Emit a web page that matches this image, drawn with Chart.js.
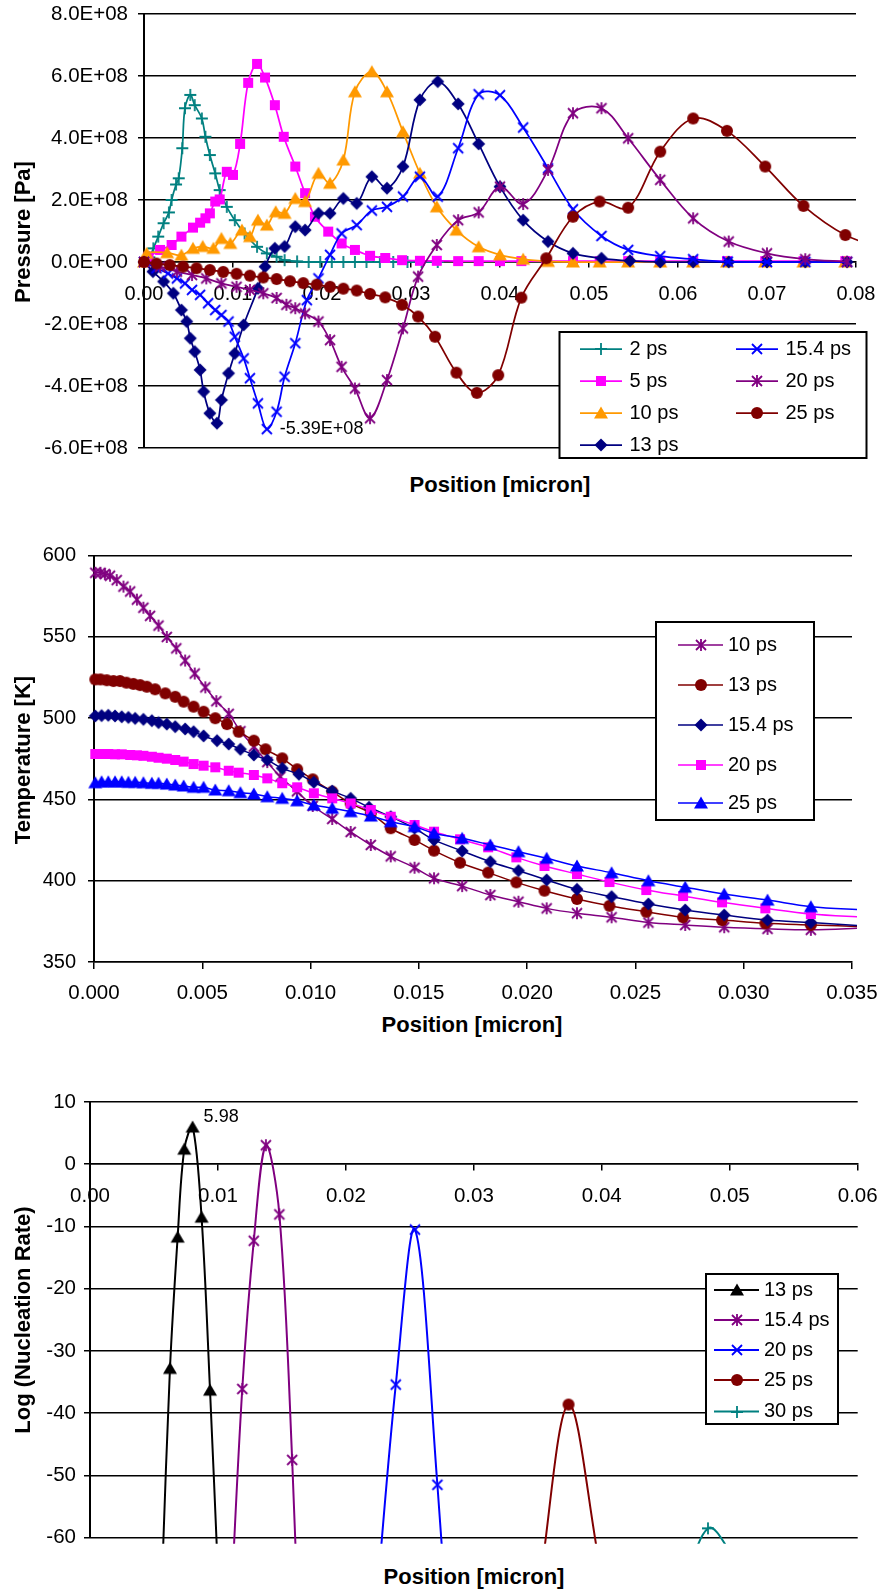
<!DOCTYPE html>
<html>
<head>
<meta charset="utf-8">
<script src="https://cdn.jsdelivr.net/npm/chart.js@4.4.1/dist/chart.umd.min.js"></script>
<style>
  html, body { margin: 0; padding: 0; background: #fff; }
  #page { position: relative; width: 880px; height: 1591px; overflow: hidden; font-family: "Liberation Sans", Arial, sans-serif; }
  canvas { position: absolute; left: 0; }
  .ttl { position: absolute; font-weight: bold; font-size: 22px; line-height: 1; white-space: nowrap; color: #000; }
  .ytl { transform: translate(-50%, -50%) rotate(-90deg); }
  .xtl { transform: translate(-50%, -50%); }
</style>
</head>
<body>
<div id="page">
  <canvas id="c1" width="880" height="470" style="top:0px;width:880px;height:470px"></canvas>
  <canvas id="c2" width="880" height="470" style="top:530px;width:880px;height:470px"></canvas>
  <canvas id="c3" width="880" height="490" style="top:1070px;width:880px;height:490px"></canvas>
  <div class="ttl ytl" style="left:23px;top:232px">Pressure [Pa]</div>
  <div class="ttl xtl" style="left:500px;top:485px">Position [micron]</div>
  <div class="ttl ytl" style="left:23px;top:760px">Temperature [K]</div>
  <div class="ttl xtl" style="left:472px;top:1025px">Position [micron]</div>
  <div class="ttl ytl" style="left:23px;top:1320px">Log (Nucleation Rate)</div>
  <div class="ttl xtl" style="left:474px;top:1577px">Position [micron]</div>
</div>
<script>
// ---- chart 1: pressure [Pa] vs position [micron]
const pressTicks = [-6e8, -4e8, -2e8, 0, 2e8, 4e8, 6e8, 8e8];
const pressLabels = ['-6.0E+08', '-4.0E+08', '-2.0E+08', '0.0E+00', '2.0E+08', '4.0E+08', '6.0E+08', '8.0E+08'];
const pos1Ticks = [0, 0.01, 0.02, 0.03, 0.04, 0.05, 0.06, 0.07, 0.08];
const pos1Labels = ['0.00', '0.01', '0.02', '0.03', '0.04', '0.05', '0.06', '0.07', '0.08'];

const p2ps = [[0, 0], [0.0006, 0.15e8], [0.00105, 0.44e8], [0.0016, 0.82e8], [0.0022, 1.25e8], [0.0028, 1.6e8],
  [0.0031, 2.0e8], [0.0036, 2.5e8], [0.0039, 2.7e8], [0.0043, 3.67e8], [0.0046, 4.96e8], [0.0052, 5.39e8],
  [0.0057, 5.06e8], [0.0065, 4.63e8], [0.0069, 4.04e8], [0.0074, 3.45e8], [0.0080, 2.86e8], [0.0085, 2.32e8],
  [0.0093, 1.78e8], [0.0102, 1.35e8], [0.0113, 0.92e8], [0.0127, 0.49e8], [0.0138, 0.28e8], [0.0149, 0.17e8],
  [0.0158, 0.06e8], [0.0172, 0.02e8], [0.0185, 0], [0.0198, 0], [0.0211, 0], [0.0224, 0], [0.0237, 0],
  [0.0250, 0], [0.0265, 0], [0.0280, 0], [0.0296, 0], [0.0312, 0], [0.0330, 0]];
const p5ps = [[0, 0], [0.0005, 0.17e8], [0.0018, 0.39e8], [0.0031, 0.55e8], [0.0042, 0.82e8], [0.0055, 1.11e8],
  [0.0063, 1.27e8], [0.0069, 1.41e8], [0.0074, 1.57e8], [0.0080, 1.95e8], [0.0085, 2.02e8], [0.0093, 2.91e8],
  [0.0100, 2.81e8], [0.0108, 3.81e8], [0.0117, 5.78e8], [0.0127, 6.39e8], [0.0136, 5.95e8], [0.0147, 5.06e8],
  [0.0157, 4.04e8], [0.0170, 3.08e8], [0.0181, 2.22e8], [0.0192, 1.46e8], [0.0207, 0.98e8], [0.0222, 0.60e8],
  [0.0237, 0.39e8], [0.0254, 0.20e8], [0.0271, 0.13e8], [0.0290, 0.06e8], [0.0310, 0.04e8], [0.0329, 0.04e8],
  [0.0353, 0.03e8], [0.0376, 0.03e8], [0.0400, 0.03e8], [0.0424, 0.03e8], [0.0452, 0.03e8], [0.0482, 0.03e8],
  [0.0512, 0.03e8], [0.0544, 0.03e8], [0.0580, 0.03e8], [0.0617, 0.03e8], [0.0655, 0.03e8], [0.0698, 0.03e8],
  [0.0741, 0.03e8], [0.0788, 0.03e8]];
const p10ps = [[0, 0], [0.0003, 0.28e8], [0.0026, 0.30e8], [0.0042, 0.22e8], [0.0055, 0.44e8], [0.0066, 0.50e8],
  [0.0078, 0.44e8], [0.0087, 0.76e8], [0.0097, 0.60e8], [0.0110, 1.03e8], [0.0119, 0.82e8], [0.0128, 1.35e8],
  [0.0138, 1.19e8], [0.0148, 1.62e8], [0.0158, 1.57e8], [0.0170, 2.05e8], [0.0181, 1.95e8], [0.0196, 2.86e8],
  [0.0209, 2.54e8], [0.0224, 3.29e8], [0.0237, 5.49e8], [0.0256, 6.14e8], [0.0273, 5.49e8], [0.0291, 4.20e8],
  [0.0310, 2.86e8], [0.0329, 1.78e8], [0.0351, 1.03e8], [0.0376, 0.49e8], [0.0400, 0.23e8], [0.0426, 0.09e8],
  [0.0454, 0.02e8], [0.0482, 0], [0.0512, 0], [0.0544, 0], [0.0580, 0], [0.0617, 0], [0.0655, 0], [0.0698, 0],
  [0.0741, 0], [0.0788, 0]];
const p13ps = [[0, 0], [0.0010, -0.31e8], [0.0022, -0.63e8], [0.0033, -1.01e8], [0.0042, -1.55e8], [0.0048, -1.92e8],
  [0.0052, -2.46e8], [0.0057, -2.89e8], [0.0063, -3.48e8], [0.0067, -4.18e8], [0.0074, -4.88e8], [0.0082, -5.20e8],
  [0.0087, -4.45e8], [0.0095, -3.59e8], [0.0102, -2.95e8], [0.0112, -2.03e8], [0.0128, -0.85e8], [0.0136, -0.15e8],
  [0.0147, 0.44e8], [0.0158, 0.50e8], [0.0170, 1.14e8], [0.0181, 1.03e8], [0.0196, 1.57e8], [0.0209, 1.57e8],
  [0.0224, 2.05e8], [0.0239, 1.89e8], [0.0256, 2.75e8], [0.0273, 2.38e8], [0.0291, 3.08e8], [0.0310, 5.23e8],
  [0.0330, 5.82e8], [0.0353, 5.10e8], [0.0376, 3.81e8], [0.0400, 2.43e8], [0.0426, 1.35e8], [0.0454, 0.66e8],
  [0.0482, 0.28e8], [0.0514, 0.12e8], [0.0546, 0.04e8], [0.0580, 0], [0.0617, 0], [0.0657, 0], [0.0700, 0],
  [0.0743, 0], [0.0790, 0]];
const p15ps = [[0, 0], [0.0014, -0.20e8], [0.0027, -0.37e8], [0.0037, -0.53e8], [0.0046, -0.69e8], [0.0054, -0.90e8],
  [0.0063, -1.06e8], [0.0072, -1.33e8], [0.0080, -1.55e8], [0.0087, -1.71e8], [0.0095, -1.92e8], [0.0102, -2.41e8],
  [0.0112, -3.11e8], [0.0119, -3.75e8], [0.0128, -4.56e8], [0.0138, -5.39e8], [0.0149, -4.83e8], [0.0158, -3.70e8],
  [0.0170, -2.62e8], [0.0183, -1.23e8], [0.0196, -0.53e8], [0.0209, 0.23e8], [0.0222, 0.92e8], [0.0239, 1.19e8],
  [0.0256, 1.66e8], [0.0273, 1.78e8], [0.0291, 2.11e8], [0.0310, 2.75e8], [0.0330, 2.11e8], [0.0353, 3.67e8],
  [0.0376, 5.41e8], [0.0400, 5.38e8], [0.0426, 4.34e8], [0.0454, 3.02e8], [0.0482, 1.70e8], [0.0514, 0.84e8],
  [0.0544, 0.39e8], [0.0580, 0.19e8], [0.0617, 0.09e8], [0.0656, 0.01e8], [0.0700, 0], [0.0743, 0], [0.0790, 0]];
const p20ps = [[0, 0], [0.0018, -0.15e8], [0.0037, -0.31e8], [0.0054, -0.42e8], [0.0070, -0.53e8], [0.0087, -0.69e8],
  [0.0104, -0.80e8], [0.0119, -0.90e8], [0.0134, -1.01e8], [0.0149, -1.16e8], [0.0160, -1.38e8], [0.0170, -1.49e8],
  [0.0181, -1.66e8], [0.0196, -1.92e8], [0.0209, -2.52e8], [0.0222, -3.38e8], [0.0237, -4.08e8], [0.0254, -5.04e8],
  [0.0273, -3.81e8], [0.0291, -2.14e8], [0.0308, -0.47e8], [0.0329, 0.55e8], [0.0353, 1.35e8], [0.0376, 1.60e8],
  [0.0400, 2.43e8], [0.0426, 1.87e8], [0.0454, 2.97e8], [0.0482, 4.80e8], [0.0514, 4.96e8], [0.0544, 3.99e8],
  [0.0580, 2.65e8], [0.0617, 1.41e8], [0.0657, 0.66e8], [0.0700, 0.28e8], [0.0743, 0.09e8], [0.0790, 0.01e8]];
const p25ps = [[0, 0], [0.0014, -0.05e8], [0.0029, -0.10e8], [0.0044, -0.15e8], [0.0059, -0.20e8], [0.0074, -0.26e8],
  [0.0089, -0.32e8], [0.0104, -0.38e8], [0.0119, -0.44e8], [0.0134, -0.50e8], [0.0149, -0.55e8], [0.0164, -0.62e8],
  [0.0179, -0.68e8], [0.0194, -0.73e8], [0.0209, -0.80e8], [0.0224, -0.86e8], [0.0239, -0.92e8], [0.0254, -1.03e8],
  [0.0271, -1.14e8], [0.0290, -1.38e8], [0.0308, -1.76e8], [0.0327, -2.41e8], [0.0351, -3.57e8], [0.0374, -4.22e8],
  [0.0398, -3.65e8], [0.0424, -1.15e8], [0.0452, 0.12e8], [0.0482, 1.46e8], [0.0512, 1.95e8], [0.0544, 1.75e8],
  [0.0580, 3.56e8], [0.0617, 4.63e8], [0.0655, 4.23e8], [0.0698, 3.08e8], [0.0741, 1.81e8], [0.0788, 0.87e8],
  [0.0835, 0.40e8]];

// ---- chart 2: temperature [K] vs position [micron]
const tempTicks = [350, 400, 450, 500, 550, 600];
const tempLabels = ['350', '400', '450', '500', '550', '600'];
const pos2Ticks = [0, 0.005, 0.010, 0.015, 0.020, 0.025, 0.030, 0.035];
const pos2Labels = ['0.000', '0.005', '0.010', '0.015', '0.020', '0.025', '0.030', '0.035'];

const t10ps = [[0.00006, 589.5], [0.0003, 589.5], [0.0005, 588.7], [0.00074, 587.7], [0.00105, 585], [0.00136, 581],
  [0.00167, 578], [0.00198, 573], [0.00228, 568], [0.00259, 563], [0.00298, 557], [0.00336, 550], [0.0038, 543],
  [0.00421, 535.5], [0.00465, 527.5], [0.00514, 519], [0.00565, 510.5], [0.00622, 502.7], [0.00676, 492],
  [0.00738, 482.5], [0.0080, 473], [0.0086, 464], [0.00937, 455], [0.0101, 446], [0.0110, 438], [0.01185, 430],
  [0.01278, 422], [0.0137, 415], [0.0148, 408], [0.0157, 401.5], [0.0170, 396.7], [0.0183, 391.2], [0.0196, 387.1],
  [0.0209, 383], [0.0223, 380], [0.0239, 377.5], [0.0256, 374.3], [0.0273, 372.8], [0.0291, 371.4], [0.0311, 370.4],
  [0.0331, 369.8], [0.0356, 371]];
const t13ps = [[0.00006, 523.9], [0.0003, 523.9], [0.00059, 523.4], [0.0009, 522.9], [0.0012, 522.9], [0.0015, 521.9],
  [0.00182, 521.1], [0.00213, 520.4], [0.00244, 519.4], [0.00282, 517.8], [0.00329, 515.3], [0.00375, 513.2],
  [0.00414, 510.2], [0.0046, 507.1], [0.00506, 504], [0.0056, 500], [0.00614, 496.4], [0.00668, 491.7],
  [0.00738, 486.2], [0.00792, 480.9], [0.00869, 475.3], [0.00938, 468.6], [0.0101, 462.4], [0.0110, 454.8],
  [0.01185, 447.6], [0.01278, 441.5], [0.0137, 432.3], [0.0148, 425.1], [0.0157, 418.5], [0.0169, 411.1],
  [0.0182, 405], [0.0195, 399], [0.0208, 393.9], [0.0223, 388.8], [0.0238, 384.6], [0.0255, 380.9], [0.0272, 377.5],
  [0.0290, 375.8], [0.0310, 373.8], [0.0331, 372.8], [0.0356, 371.7]];
const t15ps = [[0.00006, 501.4], [0.00035, 501.6], [0.00066, 501.8], [0.00097, 501.4], [0.00128, 500.9], [0.00159, 500.5],
  [0.0019, 499.9], [0.00228, 499.3], [0.00267, 498.5], [0.00298, 497.3], [0.00336, 496.4], [0.00375, 494.8],
  [0.00421, 493.4], [0.0046, 491.7], [0.00506, 489.1], [0.00568, 486.2], [0.00622, 484.1], [0.00676, 480.9],
  [0.00738, 477.4], [0.0080, 474.3], [0.00869, 469.2], [0.00946, 465.5], [0.01015, 460.6], [0.0110, 455.2],
  [0.01185, 450.7], [0.0127, 445.2], [0.0137, 439.4], [0.0148, 432.3], [0.0157, 425.1], [0.0170, 418.3],
  [0.0183, 411.7], [0.0196, 406.2], [0.0209, 400.5], [0.0223, 394.7], [0.0239, 390.2], [0.0256, 385.7], [0.0273, 382],
  [0.0291, 378.9], [0.0311, 375.8], [0.0331, 374.3], [0.0356, 372.2]];
const t20ps = [[0.00006, 478], [0.00035, 478], [0.00066, 478], [0.00097, 477.8], [0.00128, 477.8], [0.00167, 477.4],
  [0.00198, 477.2], [0.00228, 476.9], [0.00267, 476.3], [0.00298, 475.7], [0.00336, 475.1], [0.00375, 474.3],
  [0.00414, 473.3], [0.0046, 471.8], [0.00506, 470.8], [0.0056, 469.8], [0.00622, 467.7], [0.00668, 466.5],
  [0.00738, 465.1], [0.0080, 463], [0.00869, 460], [0.00938, 457.5], [0.01015, 453.8], [0.0110, 450.7],
  [0.01185, 447.6], [0.01278, 443.5], [0.0137, 439.4], [0.0148, 434.3], [0.0157, 430.2], [0.0169, 425.5],
  [0.0182, 420.6], [0.0195, 414.4], [0.0208, 409.1], [0.0223, 404.1], [0.0238, 399.2], [0.0255, 394.3],
  [0.0272, 390.6], [0.0290, 386.7], [0.0310, 383], [0.0331, 379.5], [0.0356, 377.5]];
const t25ps = [[0.00006, 460.3], [0.00035, 460.9], [0.00066, 460.9], [0.00097, 460.9], [0.00128, 460.9], [0.00159, 460.6],
  [0.0019, 460.6], [0.00228, 460.3], [0.00267, 460], [0.00298, 460], [0.00336, 459.5], [0.00375, 458.9],
  [0.00414, 458.3], [0.0046, 457.5], [0.00506, 457.5], [0.0056, 455.8], [0.00622, 455.4], [0.00676, 454.2],
  [0.00738, 453.4], [0.0080, 451.7], [0.00869, 450.7], [0.00938, 449.2], [0.01015, 446.6], [0.0110, 444.6],
  [0.01185, 442.5], [0.01278, 439.8], [0.0137, 436.3], [0.0148, 433.3], [0.0157, 429.2], [0.0170, 426.1],
  [0.0183, 422], [0.0196, 417.9], [0.0209, 413.8], [0.0223, 409.1], [0.0239, 404.9], [0.0256, 400], [0.0273, 396],
  [0.0291, 391.8], [0.0311, 388.1], [0.0331, 384], [0.0356, 382]];

// ---- chart 3: log(nucleation rate) vs position [micron]
const rateTicks = [-60, -50, -40, -30, -20, -10, 0, 10];
const rateLabels = ['-60', '-50', '-40', '-30', '-20', '-10', '0', '10'];
const pos3Ticks = [0, 0.01, 0.02, 0.03, 0.04, 0.05, 0.06];
const pos3Labels = ['0.00', '0.01', '0.02', '0.03', '0.04', '0.05', '0.06'];

const n13ps = [[0.00565, -65.3], [0.00625, -32.8], [0.00685, -11.7], [0.00737, 2.42], [0.00802, 5.98], [0.00872, -8.5],
  [0.00938, -36.3], [0.0100, -65.8]];
const n15ps = [[0.01095, -74], [0.0119, -36.1], [0.0128, -12.3], [0.01375, 3.06], [0.0148, -8.06], [0.0158, -47.5],
  [0.0168, -103]];
const n20ps = [[0.0224, -70], [0.0239, -35.4], [0.0254, -10.5], [0.02715, -51.5], [0.0289, -103]];
const n25ps = [[0.0351, -68], [0.0374, -38.6], [0.0398, -64]];
const n30ps = [[0.0458, -73.7], [0.0483, -58.5], [0.0508, -64.7]];

const FONT = '"Liberation Sans", Arial, sans-serif';
Chart.defaults.font.family = FONT;
Chart.defaults.color = '#000';

// excel-like marker glyphs, drawn once and reused as pointStyle images
function marker(shape, color) {
  const c = document.createElement('canvas');
  c.width = 18; c.height = 18;
  const g = c.getContext('2d');
  g.translate(9, 9);
  g.fillStyle = color; g.strokeStyle = color; g.lineWidth = 1.8;
  g.beginPath();
  if (shape === 'square') g.fillRect(-5, -5, 10, 10);
  else if (shape === 'diamond') { g.moveTo(0, -6.5); g.lineTo(6.5, 0); g.lineTo(0, 6.5); g.lineTo(-6.5, 0); g.closePath(); g.fill(); }
  else if (shape === 'triangle') { g.moveTo(0, -6.5); g.lineTo(7, 5.5); g.lineTo(-7, 5.5); g.closePath(); g.fill(); }
  else if (shape === 'circle') { g.arc(0, 0, 6, 0, Math.PI * 2); g.fill(); }
  else if (shape === 'x') { g.moveTo(-5, -5); g.lineTo(5, 5); g.moveTo(5, -5); g.lineTo(-5, 5); g.stroke(); }
  else if (shape === 'star') { g.moveTo(-5, -5); g.lineTo(5, 5); g.moveTo(5, -5); g.lineTo(-5, 5); g.moveTo(0, -6); g.lineTo(0, 6); g.stroke(); }
  else if (shape === 'plus') { g.moveTo(-6, 0); g.lineTo(6, 0); g.moveTo(0, -6); g.lineTo(0, 6); g.stroke(); }
  return c;
}

function series(label, data, color, shape, width, i, clip) {
  return {
    label, data, showLine: true, fill: false, tension: 0.35, order: -i, clip,
    borderColor: color, backgroundColor: color, borderWidth: width,
    pointStyle: marker(shape, color), pointRadius: 6, pointHoverRadius: 6, pointBorderWidth: 0
  };
}

// boxed legend at a fixed spot, covering gridlines like the original
function boxLegend(box, lineLen, textOff, items) {
  return {
    id: 'boxLegend',
    afterDraw(chart) {
      const ctx = chart.ctx;
      ctx.save();
      ctx.fillStyle = '#fff';
      ctx.fillRect(box[0], box[1], box[2], box[3]);
      ctx.strokeStyle = '#000'; ctx.lineWidth = 2;
      ctx.strokeRect(box[0], box[1], box[2], box[3]);
      ctx.font = '20px ' + FONT;
      ctx.textBaseline = 'middle';
      ctx.textAlign = 'left';
      items.forEach(([di, x, y]) => {
        const ds = chart.data.datasets[di];
        ctx.strokeStyle = ds.borderColor; ctx.lineWidth = ds.borderWidth;
        ctx.beginPath(); ctx.moveTo(x, y); ctx.lineTo(x + lineLen, y); ctx.stroke();
        const img = ds.pointStyle;
        ctx.drawImage(img, Math.round(x + lineLen / 2 - img.width / 2), Math.round(y - img.height / 2));
        ctx.fillStyle = '#000';
        ctx.fillText(ds.label, x + textOff, y);
      });
      ctx.restore();
    }
  };
}

// value label beside one data point
function note(di, pick, fmt, dx, dy) {
  return {
    id: 'note',
    afterDatasetsDraw(chart) {
      const data = chart.data.datasets[di].data;
      const idx = pick(data);
      const el = chart.getDatasetMeta(di).data[idx];
      const ctx = chart.ctx;
      ctx.save();
      ctx.font = '18px ' + FONT;
      ctx.fillStyle = '#000';
      ctx.textBaseline = 'middle';
      ctx.fillText(fmt(data[idx][1]), el.x + dx, el.y + dy);
      ctx.restore();
    }
  };
}

const fmtE = (v, d) => {
  if (v === 0) return (0).toFixed(d) + 'E+00';
  const e = Math.floor(Math.log10(Math.abs(v)));
  const m = v / Math.pow(10, e);
  return m.toFixed(d) + 'E' + (e < 0 ? '-' : '+') + String(Math.abs(e)).padStart(2, '0');
};
const minIdx = arr => arr.reduce((b, p, i) => (p[1] < arr[b][1] ? i : b), 0);
const maxIdx = arr => arr.reduce((b, p, i) => (p[1] > arr[b][1] ? i : b), 0);

// scales keep no extra label padding, so the plot box is set by layout padding alone
const noPad = s => { s.paddingLeft = 0; s.paddingRight = 0; s.paddingTop = 0; s.paddingBottom = 0; };

function xAxis(min, max, vals, labels, pos, tl, pad, size, h) {
  return {
    type: 'linear', min, max, position: pos,
    afterBuildTicks: s => { s.ticks = vals.map(v => ({ value: v })); },
    afterFit: s => { s.height = h; noPad(s); },
    grid: { drawOnChartArea: false, drawTicks: true, tickLength: tl, color: '#000', lineWidth: 1.5 },
    border: { display: true, color: '#000', width: 1.5 },
    ticks: { callback: (v, i) => labels[i], autoSkip: false, maxRotation: 0, minRotation: 0, padding: pad, font: { size } }
  };
}
function yAxis(min, max, vals, labels, w, pad, size) {
  return {
    type: 'linear', min, max,
    afterBuildTicks: s => { s.ticks = vals.map(v => ({ value: v })); },
    afterFit: s => { s.width = w; noPad(s); },
    grid: { color: '#000', lineWidth: 1.5, drawTicks: true, tickLength: 6 },
    border: { display: true, color: '#000', width: 2 },
    ticks: { callback: (v, i) => labels[i], autoSkip: false, padding: pad, font: { size } }
  };
}
function baseOpts(padding, x, y) {
  return {
    responsive: false, animation: false, devicePixelRatio: 1, events: [],
    layout: { padding },
    elements: { line: { capBezierPoints: false } },
    plugins: { legend: { display: false }, tooltip: { enabled: false } },
    scales: { x, y }
  };
}

// chart 1
const clip1 = { left: 10, top: 10, right: 2, bottom: 10 };
new Chart(document.getElementById('c1'), {
  type: 'scatter',
  data: { datasets: [
    series('2 ps', p2ps, '#008080', 'plus', 1.75, 0, clip1),
    series('5 ps', p5ps, '#FF00FF', 'square', 1.75, 1, clip1),
    series('10 ps', p10ps, '#FF9900', 'triangle', 1.75, 2, clip1),
    series('13 ps', p13ps, '#000080', 'diamond', 1.75, 3, clip1),
    series('15.4 ps', p15ps, '#0000FF', 'x', 1.75, 4, clip1),
    series('20 ps', p20ps, '#800080', 'star', 1.75, 5, clip1),
    series('25 ps', p25ps, '#800000', 'circle', 1.75, 6, clip1)
  ] },
  options: baseOpts({ left: 0, top: 14, right: 24, bottom: 22 },
    xAxis(0, 0.08, pos1Ticks, pos1Labels, { y: 0 }, 5, 15, 20, 0),
    yAxis(-6e8, 8e8, pressTicks, pressLabels, 144, 10, 20.5)),
  plugins: [
    boxLegend([559.5, 332, 307, 126], 42, 49.5, [
      [0, 580, 349], [1, 580, 381], [2, 580, 413], [3, 580, 445],
      [4, 736, 349], [5, 736, 381], [6, 736, 413]
    ]),
    note(4, minIdx, v => fmtE(v, 2), 13, 0)
  ]
});

// chart 2
const clip2 = { left: 10, top: 10, right: 5, bottom: 10 };
new Chart(document.getElementById('c2'), {
  type: 'scatter',
  data: { datasets: [
    series('10 ps', t10ps, '#800080', 'star', 1.5, 0, clip2),
    series('13 ps', t13ps, '#800000', 'circle', 1.5, 1, clip2),
    series('15.4 ps', t15ps, '#000080', 'diamond', 1.5, 2, clip2),
    series('20 ps', t20ps, '#FF00FF', 'square', 1.5, 3, clip2),
    series('25 ps', t25ps, '#0000FF', 'triangle', 1.5, 4, clip2)
  ] },
  options: baseOpts({ left: 0, top: 25.7, right: 28, bottom: 0 },
    xAxis(0, 0.035, pos2Ticks, pos2Labels, 'bottom', 7, 12, 20.5, 38),
    yAxis(350, 600, tempTicks, tempLabels, 94, 12, 20)),
  plugins: [
    boxLegend([656, 92, 158, 198], 45, 50, [
      [0, 678, 115], [1, 678, 155], [2, 678, 195], [3, 678, 235], [4, 678, 273]
    ])
  ]
});

// chart 3
const clip3 = { left: 0, top: 0, right: 0, bottom: 6 };
new Chart(document.getElementById('c3'), {
  type: 'scatter',
  data: { datasets: [
    series('13 ps', n13ps, '#000000', 'triangle', 2, 0, clip3),
    series('15.4 ps', n15ps, '#800080', 'star', 2, 1, clip3),
    series('20 ps', n20ps, '#0000FF', 'x', 2, 2, clip3),
    series('25 ps', n25ps, '#800000', 'circle', 2, 3, clip3),
    series('30 ps', n30ps, '#008080', 'plus', 2, 4, clip3)
  ] },
  options: baseOpts({ left: 0, top: 32, right: 22.3, bottom: 22.3 },
    xAxis(0, 0.06, pos3Ticks, pos3Labels, { y: 0 }, 6, 13.7, 20.5, 0),
    yAxis(-60, 10, rateTicks, rateLabels, 90, 8, 20.5)),
  plugins: [
    boxLegend([706, 204, 132, 150], 45, 50, [
      [0, 714, 220], [1, 714, 250], [2, 714, 280], [3, 714, 310], [4, 714, 341.5]
    ]),
    note(0, maxIdx, v => v.toFixed(2), 11, -10)
  ]
});
</script>
</body>
</html>
